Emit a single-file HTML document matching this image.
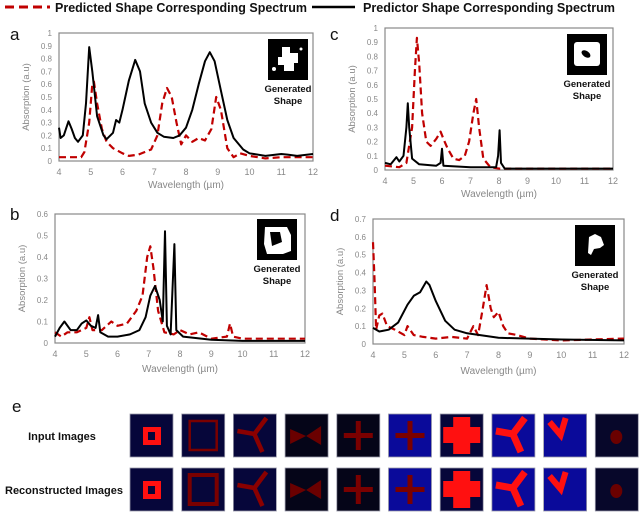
<!DOCTYPE html>
<html><head><meta charset="utf-8">
<style>
body{margin:0;background:#fff;width:640px;height:514px;overflow:hidden;font-family:"Liberation Sans",sans-serif}
svg{position:absolute;left:0;top:0}
</style></head>
<body>
<svg id="fig" width="640" height="514" xmlns="http://www.w3.org/2000/svg">
<g>
<line x1="5" y1="7" x2="50" y2="7" stroke="#c00000" stroke-width="3" stroke-dasharray="9,5"/>
<text x="55" y="12" font-size="13" font-weight="bold" fill="#111" textLength="252" lengthAdjust="spacingAndGlyphs">Predicted Shape Corresponding Spectrum</text>
<line x1="312" y1="7" x2="355" y2="7" stroke="#000" stroke-width="2.5"/>
<text x="363" y="12" font-size="13" font-weight="bold" fill="#111" textLength="252" lengthAdjust="spacingAndGlyphs">Predictor Shape Corresponding Spectrum</text>
</g>
<g id="charts"></g>
<g id="panelE">
<text x="12" y="412" font-size="17" fill="#111">e</text>
<text x="62" y="440" font-size="11" font-weight="bold" text-anchor="middle" fill="#111">Input Images</text>
<text x="64" y="494" font-size="11" font-weight="bold" text-anchor="middle" fill="#111">Reconstructed Images</text>
</g>
</svg>
<script>
const NS="http://www.w3.org/2000/svg";
// Panel a data
const aBlackX=[4,4.05,4.15,4.3,4.4,4.5,4.6,4.75,4.85,4.95,5.05,5.2,5.4,5.5,5.7,5.8,5.9,6.0,6.2,6.4,6.55,6.7,6.9,7.1,7.3,7.6,7.8,8.0,8.2,8.4,8.6,8.75,8.9,9.1,9.3,9.5,9.8,10,10.5,11,11.2,11.5,12];
const aBlackY=[0.26,0.18,0.2,0.31,0.25,0.18,0.15,0.2,0.45,0.89,0.7,0.35,0.2,0.17,0.22,0.32,0.3,0.4,0.63,0.79,0.7,0.45,0.3,0.22,0.19,0.18,0.2,0.26,0.4,0.6,0.78,0.85,0.78,0.55,0.32,0.18,0.09,0.06,0.04,0.055,0.05,0.04,0.055];
const aRedX=[4,4.7,4.8,4.95,5.05,5.1,5.2,5.35,5.5,5.7,6.0,6.2,6.5,6.9,7.1,7.25,7.4,7.55,7.7,7.85,8.0,8.2,8.4,8.6,8.8,8.95,9.1,9.3,9.5,9.7,10,10.5,11,12];
const aRedY=[0.03,0.03,0.07,0.3,0.6,0.62,0.45,0.25,0.15,0.1,0.06,0.04,0.05,0.09,0.2,0.45,0.57,0.5,0.3,0.13,0.2,0.15,0.18,0.16,0.25,0.5,0.4,0.1,0.03,0.06,0.04,0.02,0.03,0.03];
const aYTicks=["0","0.1","0.2","0.3","0.4","0.5","0.6","0.7","0.8","0.9","1"];
// Panel b data
const bBlackX=[4,4.15,4.3,4.5,4.7,4.85,5.0,5.15,5.3,5.38,5.45,5.7,6.0,6.4,6.7,6.9,7.05,7.2,7.35,7.45,7.52,7.58,7.7,7.82,7.88,8.1,9,10,12];
const bBlackY=[0.03,0.07,0.1,0.06,0.06,0.09,0.105,0.08,0.07,0.13,0.05,0.03,0.03,0.04,0.06,0.12,0.22,0.265,0.2,0.1,0.52,0.08,0.04,0.46,0.06,0.03,0.015,0.01,0.01];
const bRedX=[4,4.2,4.4,4.7,5.0,5.1,5.2,5.5,5.8,6.0,6.3,6.6,6.8,6.95,7.05,7.15,7.3,7.5,7.8,8.0,8.3,8.6,9.0,9.5,9.6,9.7,10,12];
const bRedY=[0.05,0.03,0.05,0.05,0.07,0.12,0.06,0.06,0.1,0.08,0.09,0.15,0.22,0.4,0.45,0.35,0.15,0.05,0.04,0.06,0.04,0.05,0.02,0.03,0.09,0.03,0.02,0.02];
const bYTicks=["0","0.1","0.2","0.3","0.4","0.5","0.6"];
// Panel c data
const cBlackX=[4,4.2,4.4,4.5,4.65,4.75,4.8,4.85,4.95,5.2,5.8,5.95,6.0,6.05,7,7.9,7.97,8.02,8.07,8.2,12];
const cBlackY=[0.05,0.04,0.09,0.06,0.1,0.3,0.47,0.3,0.08,0.04,0.03,0.05,0.15,0.03,0.02,0.02,0.1,0.28,0.05,0.01,0.01];
const cRedX=[4,4.5,4.75,4.95,5.05,5.12,5.2,5.3,5.45,5.6,5.8,5.95,6.05,6.2,6.4,6.6,6.8,6.95,7.1,7.2,7.3,7.45,7.7,8,12];
const cRedY=[0.03,0.02,0.05,0.3,0.7,0.93,0.75,0.4,0.2,0.17,0.22,0.27,0.22,0.15,0.08,0.07,0.1,0.2,0.4,0.5,0.3,0.08,0.02,0.01,0.01];
// Panel d data
const dBlackX=[4,4.2,4.5,4.8,5.1,5.3,5.5,5.7,5.8,6.0,6.3,6.6,7,8,9,10,12];
const dBlackY=[0.09,0.07,0.08,0.12,0.22,0.27,0.29,0.35,0.33,0.24,0.13,0.08,0.06,0.035,0.03,0.025,0.02];
const dRedX=[4,4.05,4.1,4.2,4.3,4.45,4.7,5.0,5.1,5.3,5.6,6,6.5,7,7.2,7.35,7.5,7.62,7.75,7.85,8.0,8.15,8.3,8.6,9,10,12];
const dRedY=[0.57,0.35,0.08,0.16,0.17,0.1,0.08,0.05,0.1,0.05,0.04,0.03,0.04,0.03,0.1,0.05,0.2,0.33,0.2,0.15,0.18,0.1,0.06,0.05,0.03,0.02,0.03];
const dYTicks=["0","0.1","0.2","0.3","0.4","0.5","0.6","0.7"];
const xTicks=["4","5","6","7","8","9","10","11","12"];

function mk(tag,attrs,parent){const e=document.createElementNS(NS,tag);for(const k in attrs)e.setAttribute(k,attrs[k]);parent.appendChild(e);return e;}
const root=document.getElementById('charts');

function chart(id,L,R,T,B,yMax,yTicks,black,red,label,labX,labY,thumb,wlY){
  const g=mk('g',{},root);
  
  
  const sx=v=>L+(v-4)/8*(R-L), sy=v=>B-v/yMax*(B-T);
  const pl=mk('text',{x:labX,y:labY,'font-size':17,fill:'#111'},g);pl.textContent=id;
  
  
  const fr=mk('rect',{x:L,y:T,width:R-L,height:B-T,fill:'none',stroke:'#888','stroke-width':1.2},g);
  
  
  yTicks.forEach((t,i)=>{const v=parseFloat(t);const tx=mk('text',{x:L-7,y:sy(v)+3,'font-size':8,fill:'#888','text-anchor':'end'},g);tx.textContent=t;
    
    });
  xTicks.forEach(t=>{const v=parseFloat(t);const tx=mk('text',{x:sx(v),y:B+14,'font-size':9,fill:'#888','text-anchor':'middle'},g);tx.textContent=t;
    
    });
  const xt=mk('text',{x:(L+R)/2,y:wlY,'font-size':10,fill:'#888','text-anchor':'middle'},g);xt.textContent='Wavelength (µm)';
  
  
  const yt=mk('text',{x:0,y:0,'font-size':9.5,fill:'#888','text-anchor':'middle',transform:`translate(${L-30},${(T+B)/2}) rotate(-90)`},g);yt.textContent='Absorption (a.u)';
  
  
  const line=(xs,ys,col,dash,w,name)=>{const p=mk('polyline',{points:xs.map((x,i)=>sx(x).toFixed(1)+','+sy(ys[i]).toFixed(1)).join(' '),fill:'none',stroke:col,'stroke-width':w,'stroke-linejoin':'round'},g);if(dash)p.setAttribute('stroke-dasharray',dash);
    
    };
  line(red[0],red[1],'#c00000','7,4',2.2,'predicted-spectrum-line');
  line(black[0],black[1],'#000','',2,'predictor-spectrum-line');
  const [tx,ty]=thumb;
  const th=mk('rect',{x:tx,y:ty,width:40,height:41,fill:'#000'},g);
  
  
  if(id==='a'){mk('path',{d:`M${tx+14},${ty+8} h8 v6 h8 v10 h-4 v8 h-10 v-6 h-6 v-8 h4z`,fill:'#fff'},g);mk('circle',{cx:tx+6,cy:ty+30,r:2,fill:'#fff'},g);mk('circle',{cx:tx+33,cy:ty+10,r:1.5,fill:'#fff'},g);}
  if(id==='b'){mk('path',{d:`M${tx+8},${ty+8} h22 l4,8 v16 l-8,3 h-16 l-3,-10z`,fill:'#fff'},g);mk('path',{d:`M${tx+13},${ty+13} h10 l2,10 l-10,4z`,fill:'#000'},g);}
  if(id==='c'){mk('rect',{x:tx+7,y:ty+8,width:26,height:24,fill:'#fff',rx:3},g);mk('ellipse',{cx:tx+19,cy:ty+20,rx:5,ry:3,fill:'#000',transform:`rotate(35 ${tx+19} ${ty+20})`},g);}
  if(id==='d'){mk('path',{d:`M${tx+14},${ty+12} l6,-3 l6,3 l3,8 l-4,3 l-6,1 l-3,6 l-3,-2z`,fill:'#fff'},g);}
  ['Generated','Shape'].forEach((s,i)=>{const t=mk('text',{x:tx+20,y:ty+53+i*12,'font-size':9.5,'font-weight':'bold','text-anchor':'middle',fill:'#111'},g);t.textContent=s;
    
    });
}
chart('a',59,313,33,161,1,aYTicks,[aBlackX,aBlackY],[aRedX,aRedY],'a',10,40,[268,39],188);
chart('b',55,305,214,343,0.6,bYTicks,[bBlackX,bBlackY],[bRedX,bRedY],'b',10,220,[257,219],372);
chart('c',385,613,28,170,1,aYTicks,[cBlackX,cBlackY],[cRedX,cRedY],'c',330,40,[567,34],197);
chart('d',373,624,219,344,0.7,dYTicks,[dBlackX,dBlackY],[dRedX,dRedY],'d',330,221,[575,225],374);

// Panel e thumbnails
const eBg=['#06063a','#06063a','#06063a','#050518','#050518','#0a0a9a','#06063a','#0a0a9a','#0a0a9a','#07072a'];
const eShapes=['sq','frame','y','bow','plus','plus','bigplus','y2','v','dot'];
const eCol=['#ff1010','#7a0000','#8a0000','#6a0000','#7a0000','#7a0000','#ff1010','#ff1010','#ff1010','#6a0000'];
const pe=document.getElementById('panelE');
function shape(k,x,y,c,rec){
  if(k==='sq'){mk('rect',{x:x+13,y:y+13,width:18,height:18,fill:c},pe);mk('rect',{x:x+18,y:y+18,width:7,height:8,fill:'#06063a'},pe);}
  if(k==='frame')mk('rect',{x:x+8,y:y+7,width:27,height:29,fill:'none',stroke:c,'stroke-width':rec?4:2.5},pe);
  if(k==='y'||k==='y2'){const w=k==='y2'?7:4.5;mk('polyline',{points:`${x+4},${y+17} ${x+21},${y+20} ${x+33},${y+4}`,fill:'none',stroke:c,'stroke-width':w},pe);mk('line',{x1:x+21,y1:y+20,x2:x+29,y2:y+38,stroke:c,'stroke-width':w},pe);}
  if(k==='bow')mk('polygon',{points:`${x+5},${y+15} ${x+21},${y+22} ${x+36},${y+12} ${x+36},${y+31} ${x+21},${y+22} ${x+5},${y+30}`,fill:c},pe);
  if(k==='plus'){mk('rect',{x:x+7,y:y+19,width:29,height:5,fill:c},pe);mk('rect',{x:x+19,y:y+7,width:5,height:29,fill:c},pe);}
  if(k==='bigplus'){mk('rect',{x:x+3,y:y+13,width:37,height:16,fill:c},pe);mk('rect',{x:x+13,y:y+3,width:17,height:37,fill:c},pe);}
  if(k==='v')mk('polyline',{points:`${x+6},${y+8} ${x+17},${y+21} ${x+22},${y+4}`,fill:'none',stroke:c,'stroke-width':6},pe);
  if(k==='dot')mk('ellipse',{cx:x+21,cy:y+23,rx:6,ry:7,fill:c},pe);
}
eBg.forEach((bg,i)=>{
  [414,468].forEach((yy,r)=>{
    const x=130+i*51.7;
    const b=mk('rect',{x:x,y:yy,width:43,height:43,fill:bg,stroke:'#99a','stroke-width':0.8},pe);
    
    
    shape(eShapes[i],x,yy,eCol[i],r===1);
  });
});
</script>
</body></html>
